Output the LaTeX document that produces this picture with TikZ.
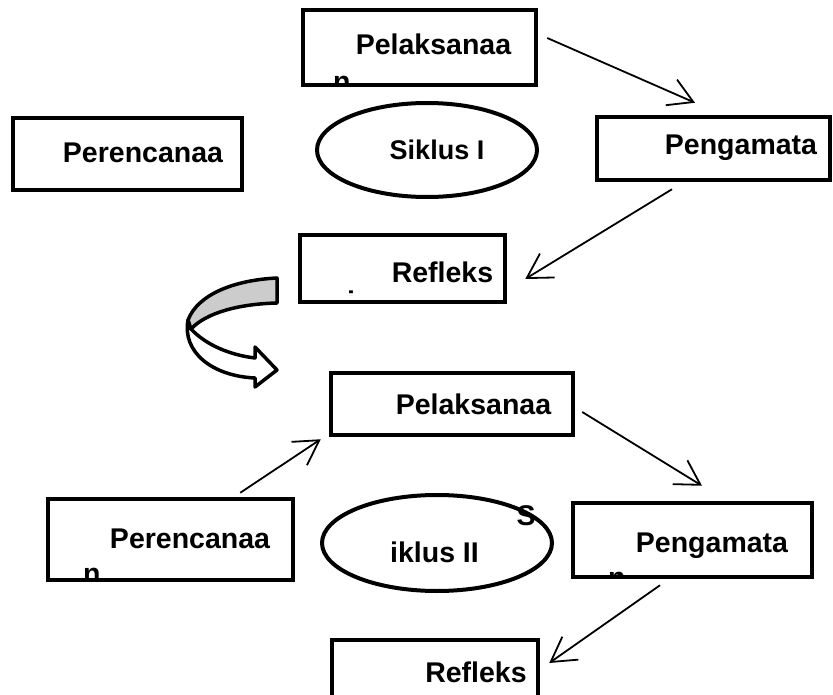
\documentclass[tikz,border=0pt]{standalone}
\usepackage{fontspec}
\setmainfont{Liberation Sans}
\usetikzlibrary{arrows.meta}
\usetikzlibrary{shapes.geometric}
\tikzset{
	x=1pt, y=-1pt,
	box/.style = {draw, rectangle, line width=4.5pt, inner sep=0pt},
	cyc/.style = {draw, ellipse, line width=4pt, inner sep=0pt},
	lbl/.style = {inner sep=0pt, anchor=base, font=\bfseries\fontsize{28.5}{34}\selectfont}
}

\begin{document}
\begin{tikzpicture}[flow/.style={line width=1.8pt,-{Straight Barb[length=24pt,width=28pt,line width=1.8pt]}},
	frag/.style={lbl, anchor=base west}, curl/.style={line width=3.5pt, line join=round}]
	\useasboundingbox (0,0) rectangle (833,695);
	\node[box, minimum width=233pt, minimum height=75pt] (plak1) at (419.5,47.5) {};
	\node[box, minimum width=229pt, minimum height=72pt] (ren1) at (127.5,154) {};
	\node[cyc, minimum width=220pt, minimum height=94pt] (cyc1) at (427,150) {};
	\node[box, minimum width=233pt, minimum height=63pt] (peng1) at (713.5,148.5) {};
	\node[box, minimum width=205pt, minimum height=67pt] (refl1) at (402.5,268.5) {};
	\node[box, minimum width=242pt, minimum height=62pt] (plak2) at (452,404) {};
	\node[box, minimum width=245pt, minimum height=81pt] (ren2) at (170.5,539.5) {};
	\node[cyc, minimum width=230pt, minimum height=96pt] (cyc2) at (437,543) {};
	\node[box, minimum width=239pt, minimum height=74pt] (peng2) at (692.5,540) {};
	\node[box, minimum width=206pt, minimum height=80pt] (refl2) at (435,680) {};
	\node[lbl] (plak1t) at (433.5,55) {Pelaksanaa};
	\node[lbl] (ren1t) at (143,163) {Perencanaa};
	\node[lbl, font=\bfseries\fontsize{27}{32}\selectfont] (cyc1t) at (437,160) {Siklus I};
	\node[lbl] (peng1t) at (741,155) {Pengamata};
	\node[lbl] (refl1t) at (442.5,283) {Refleks};
	\node[lbl] (plak2t) at (473.5,414) {Pelaksanaa};
	\node[lbl] (ren2t) at (190,548) {Perencanaa};
	\node[lbl] (cyc2s) at (526,525) {S};
	\node[lbl] (cyc2t) at (434.5,562) {iklus II};
	\node[lbl] (peng2t) at (712,552) {Pengamata};
	\node[lbl] (refl2t) at (476,682) {Refleks};
	\begin{scope}
		\clip (303,10) rectangle (536,85);
		\node[frag] (plak1n) at (333,92) {n};
	\end{scope}
	\begin{scope}
		\clip (300,235) rectangle (505,295.5);
		\node[frag] (refl1i) at (347,311) {i};
	\end{scope}
	\begin{scope}
		\clip (48,499) rectangle (293,580);
		\node[frag] (ren2n) at (83,583) {n};
	\end{scope}
	\begin{scope}
		\clip (573,503) rectangle (812,577);
		\node[frag] (peng2n) at (608,587) {n};
	\end{scope}
	\draw[flow] ([shift={(9,-9.5)}]plak1.east) -- ([shift={(-18.5,-12)}]peng1.north);
	\draw[flow] ([shift={(-41.5,7)}]peng1.south) -- ([shift={(18,10.5)}]refl1.east);
	\draw[flow] ([shift={(-55,-4)}]ren2.north east) -- ([shift={(-8,2)}]plak2.south west);
	\draw[flow] ([shift={(7,8)}]plak2.east) -- ([shift={(9.5,-15)}]peng2.north);
	\draw[flow] ([shift={(-32.5,6)}]peng2.south) -- ([shift={(9,-17)}]refl2.east);
	\draw[curl, fill=white] (188,320) .. controls (182,352) and (212,376) .. (255,378)
		-- (255,387) -- (277,370) -- (255,347) -- (255,358) .. controls (230,355) and (206,345) .. (191,329) -- cycle;
	\draw[curl, fill=gray!40] (277,278) -- (277,303) .. controls (238,304) and (206,313) .. (191,329)
		-- (188,320) .. controls (198,294) and (235,280) .. (277,278) -- cycle;
\end{tikzpicture}
\end{document}
